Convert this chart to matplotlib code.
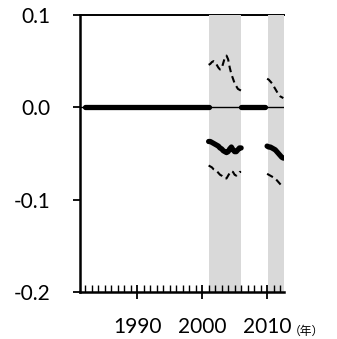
import numpy as np
import matplotlib
matplotlib.use("Agg")
import matplotlib.pyplot as plt
from matplotlib.ticker import FixedLocator, FuncFormatter

plt.rcParams['font.family'] = ['Lato', 'Noto Sans CJK JP', 'DejaVu Sans']
plt.rcParams['axes.unicode_minus'] = False

# ---- data ----
zero_spans = [(1982.0, 2001.0), (2006.0, 2009.75)]   # periods where estimate is 0
shade_spans = [(2001.0, 2006.0), (2010.2, 2012.6)]

t1 = np.arange(2001.0, 2006.01, 0.25)
est1 = [-0.037, -0.037, -0.038, -0.039, -0.040, -0.041, -0.042, -0.044, -0.045, -0.047, -0.048,
        -0.049, -0.048, -0.045, -0.043, -0.046, -0.048, -0.048, -0.046, -0.044, -0.044]
up1 = [0.046, 0.047, 0.049, 0.050, 0.049, 0.046, 0.043, 0.041, 0.042, 0.048, 0.054,
       0.056, 0.052, 0.043, 0.036, 0.031, 0.026, 0.023, 0.020, 0.019, 0.018]
lo1 = [-0.063, -0.064, -0.065, -0.067, -0.068, -0.069, -0.071, -0.073, -0.074, -0.076, -0.077,
       -0.077, -0.074, -0.071, -0.069, -0.070, -0.073, -0.074, -0.072, -0.070, -0.070]

t2 = np.arange(2010.0, 2012.51, 0.25)
est2 = [-0.042, -0.043, -0.043, -0.044, -0.045, -0.046, -0.048, -0.050, -0.052, -0.054, -0.055]
up2 = [0.031, 0.030, 0.028, 0.026, 0.023, 0.020, 0.017, 0.014, 0.012, 0.011, 0.010]
lo2 = [-0.072, -0.073, -0.074, -0.075, -0.076, -0.077, -0.079, -0.081, -0.083, -0.085, -0.087]

yticks = [-0.2, -0.1, 0.0, 0.1]
xmajor = [1990, 2000, 2010]
xminor = list(range(1982, 2013))
unit_label = '（年）'

# ---- figure ----
fig = plt.figure(figsize=(3.37, 3.39), dpi=100)
ax = fig.add_axes([80/337, 1-292/339, (284-80)/337, (292-15)/339])
ax.set_xlim(1981.2, 2012.6)
ax.set_ylim(-0.2, 0.1)

for a, b in shade_spans:
    ax.axvspan(a, b, color='#d9d9d9', lw=0, zorder=1)
ax.axhline(0.1, color='black', lw=1.4, zorder=0.5, clip_on=False)
ax.axhline(0.0, color='black', lw=1.0, zorder=2)

bold = dict(color='black', lw=3.8, solid_capstyle='round', zorder=3)
dash = dict(color='black', lw=1.5, dashes=(3.2, 2.0), zorder=3)
for a, b in zero_spans:
    tz = np.arange(a, b + 0.01, 0.25)
    ax.plot(tz, np.zeros_like(tz), **bold)
ax.plot(t1, est1, **bold)
ax.plot(t2, est2, **bold)
ax.plot(t1, up1, **dash)
ax.plot(t1, lo1, **dash)
ax.plot(t2, up2, **dash)
ax.plot(t2, lo2, **dash)

for s in ['top', 'right']:
    ax.spines[s].set_visible(False)
for s in ['left', 'bottom']:
    ax.spines[s].set_linewidth(1.8)
    ax.spines[s].set_zorder(4)

ax.yaxis.set_major_locator(FixedLocator(yticks))
ax.yaxis.set_major_formatter(FuncFormatter(lambda v, p: f"{v:.1f}"))
ax.tick_params(axis='y', direction='out', length=5, width=1.3, pad=16, labelsize=15)

ax.xaxis.set_major_locator(FixedLocator(xmajor))
ax.xaxis.set_minor_locator(FixedLocator(xminor))
ax.tick_params(axis='x', which='major', direction='inout', length=9.5, width=1.3, pad=13, labelsize=15)
ax.tick_params(axis='x', which='minor', direction='in', length=5, width=1.0)

fig.text(306/337, 1-331/339, unit_label, fontsize=8.5, family=['Noto Sans CJK JP'], va='center', ha='center')

fig.savefig('out.png', dpi=100)
